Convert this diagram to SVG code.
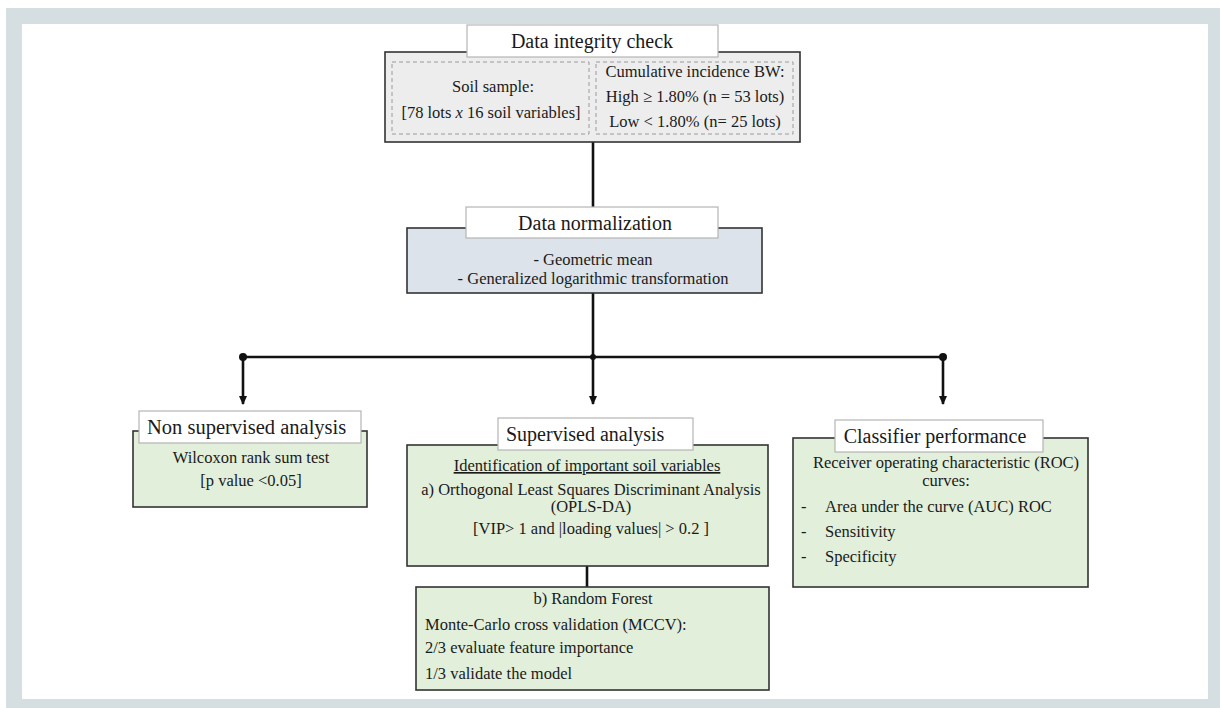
<svg xmlns="http://www.w3.org/2000/svg" width="1220" height="708" viewBox="0 0 1220 708" font-family="Liberation Serif, Tinos, serif">
<defs>
<style>
text{font-family:'Liberation Serif',Tinos,serif;fill:#1a1a1a}
.t{font-size:20px;text-anchor:middle}
.b{font-size:16.5px}
.c{text-anchor:middle}
.main{stroke:#333;stroke-width:1.6}
.green{fill:#e2efda}
.ttl{fill:#fff;stroke:#b5b5b5;stroke-width:1.2}
.dash{fill:none;stroke:#9a9a9a;stroke-width:1;stroke-dasharray:4 3}
.con{stroke:#111;stroke-width:2.6;fill:none}
</style>
<marker id="arr" markerWidth="10" markerHeight="10" refX="8" refY="5" orient="auto" markerUnits="userSpaceOnUse">
<path d="M0,1 L9,5 L0,9 Z" fill="#111"/>
</marker>
</defs>
<rect x="0" y="0" width="1220" height="708" fill="#fff"/>
<path d="M6,8 H1220 V708 H6 Z M22,24 V699 H1208 V24 Z" fill="#d5dee0" fill-rule="evenodd"/>

<g id="connectors">
<line class="con" x1="593" y1="142" x2="593" y2="207"/>
<line class="con" x1="593" y1="293" x2="593" y2="357"/>
<line class="con" x1="243" y1="357" x2="943" y2="357"/>
<line class="con" x1="243" y1="357" x2="243" y2="404" marker-end="url(#arr)"/>
<line class="con" x1="593" y1="357" x2="593" y2="404" marker-end="url(#arr)"/>
<line class="con" x1="943" y1="357" x2="943" y2="404" marker-end="url(#arr)"/>
<circle cx="243" cy="357" r="4" fill="#111"/>
<circle cx="593" cy="357" r="3" fill="#111"/>
<circle cx="943" cy="357" r="4" fill="#111"/>
<line class="con" x1="587" y1="566" x2="587" y2="587"/>
</g>

<g id="integrity">
<rect class="main" x="385" y="52" width="415" height="90" fill="#ededed"/>
<rect class="dash" x="392" y="62" width="197" height="72"/>
<rect class="dash" x="596" y="62" width="197" height="72"/>
<rect class="ttl" x="467" y="25" width="251" height="32"/>
<text class="t" x="592" y="48">Data integrity check</text>
<text class="b c" x="493" y="92">Soil sample:</text>
<text class="b c" x="491" y="118">[78 lots <tspan font-style="italic">x</tspan> 16 soil variables]</text>
<text class="b c" x="695" y="77">Cumulative incidence BW:</text>
<text class="b c" x="695" y="102">High ≥ 1.80% (n = 53 lots)</text>
<text class="b c" x="695" y="127">Low &lt; 1.80% (n= 25 lots)</text>
</g>

<g id="normalization">
<rect class="main" x="407" y="228" width="355" height="65" fill="#dce3ea"/>
<rect class="ttl" x="466" y="207" width="252" height="31"/>
<text class="t" x="595" y="230">Data normalization</text>
<text class="b c" x="593" y="265">- Geometric mean</text>
<text class="b c" x="593" y="284">- Generalized logarithmic transformation</text>
</g>

<g id="nonsupervised">
<rect class="main green" x="133" y="431" width="234" height="76"/>
<rect class="ttl" x="139" y="411" width="222" height="32"/>
<text x="147" y="434" style="font-size:20.5px">Non supervised analysis</text>
<text class="b c" x="251" y="463">Wilcoxon rank sum test</text>
<text class="b c" x="251" y="486">[p value &lt;0.05]</text>
</g>

<g id="supervised">
<rect class="main green" x="407" y="445" width="361" height="121"/>
<rect class="ttl" x="498" y="418" width="195" height="32"/>
<text x="506" y="441" style="font-size:20px">Supervised analysis</text>
<text class="b c" x="587" y="471" text-decoration="underline">Identification of important soil variables</text>
<text class="b c" x="591" y="495">a) Orthogonal Least Squares Discriminant Analysis</text>
<text class="b c" x="591" y="512">(OPLS-DA)</text>
<text class="b c" x="591" y="534">[VIP&gt; 1 and |loading values| &gt; 0.2 ]</text>
</g>

<g id="randomforest">
<rect class="main green" x="416" y="587" width="353" height="103"/>
<text class="b c" x="593" y="604">b) Random Forest</text>
<text class="b" x="425" y="630">Monte-Carlo cross validation (MCCV):</text>
<text class="b" x="425" y="653">2/3 evaluate feature importance</text>
<text class="b" x="425" y="679">1/3 validate the model</text>
</g>

<g id="classifier">
<rect class="main green" x="793" y="438" width="295" height="149"/>
<rect class="ttl" x="835" y="420" width="208" height="32"/>
<text class="t" x="935" y="443">Classifier performance</text>
<text class="b c" x="946" y="468">Receiver operating characteristic (ROC)</text>
<text class="b c" x="946" y="486">curves:</text>
<text class="b" x="801" y="512">-</text>
<text class="b" x="825" y="512">Area under the curve (AUC) ROC</text>
<text class="b" x="801" y="537">-</text>
<text class="b" x="825" y="537">Sensitivity</text>
<text class="b" x="801" y="562">-</text>
<text class="b" x="825" y="562">Specificity</text>
</g>
</svg>
